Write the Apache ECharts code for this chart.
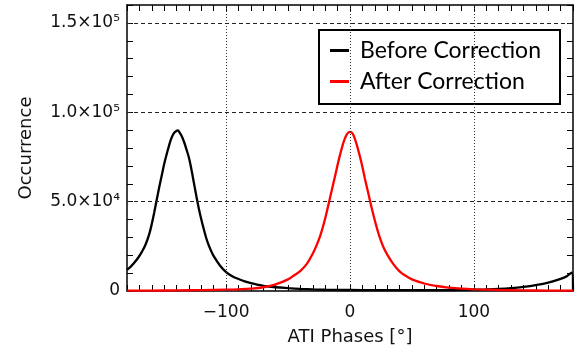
<!DOCTYPE html>
<html>
<head>
<meta charset="utf-8">
<script src="https://cdn.jsdelivr.net/npm/echarts@6/dist/echarts.min.js"></script>
<style>
  html, body { margin: 0; padding: 0; background: #fff; }
  #chart { width: 583px; height: 356px; }
</style>
</head>
<body>
<div id="chart"></div>
<script>
// Before Correction (black)
const beforeX = [-180, -177, -174, -171, -168, -165, -162, -160, -158, -156, -154, -152, -150, -148, -146, -144, -142, -140, -139,
  -138, -136, -134, -132, -130, -128, -126, -124, -122, -120, -118, -116, -114, -112, -110, -105, -100, -95, -90, -85, -80, -75, -70,
  -60, -50, -40, -30, -20, -10, 0, 20, 40, 60, 80, 100, 110, 120, 130, 140, 150, 160, 170, 175, 179, 180];
const beforeY = [11800, 13600, 15900, 18600, 21900, 26000, 32000, 37500, 44000, 51000, 58000, 64500, 71000, 76500, 81500, 85800, 88500, 89600, 89800,
  89200, 86800, 83500, 79200, 74500, 68000, 60500, 53000, 46000, 40000, 34500, 29500, 25500, 22300, 19500, 14300, 10600, 8300, 6700, 5400, 4400, 3600, 2900,
  2100, 1600, 1200, 900, 700, 600, 550, 480, 450, 450, 550, 750, 900, 1150, 1600, 2300, 3300, 4700, 6800, 8300, 10300, 0];

// After Correction (red)
const afterX = [-180, -160, -140, -120, -100, -90, -80, -70, -60, -50, -45, -40, -35, -30, -27, -24, -21, -18, -15, -12, -9, -6, -4, -2,
  0, 2, 4, 6, 9, 12, 15, 18, 21, 24, 27, 30, 35, 40, 45, 50, 60, 70, 80, 90, 100, 120, 140, 160, 180];
const afterY = [200, 250, 350, 500, 750, 950, 1300, 2100, 3700, 6500, 8800, 11300, 15000, 21000, 25500, 31000, 38000, 46500, 55500, 64500, 73500, 81500, 85500, 88200,
  89000, 88200, 85000, 80500, 72500, 63000, 54000, 45000, 37000, 30000, 24500, 20500, 15000, 11000, 8500, 6500, 4200, 2800, 1900, 1300, 950, 550, 350, 250, 200];

const xLabels = [-100, 0, 100];
const yLabels = { 0: '0', 50000: '5.0×10⁴', 100000: '1.0×10⁵', 150000: '1.5×10⁵' };
const xGrid = [-100, 0, 100];
const yGrid = [50000, 100000, 150000];

const pairs = (xs, ys) => xs.map((x, i) => [x, ys[i]]);

const labelFont = { fontFamily: 'DejaVu Sans', fontSize: 17, color: '#111' };
const tick = { show: true, inside: true, length: 6, lineStyle: { color: '#000', width: 1 } };
const frame = { show: true, onZero: false, lineStyle: { color: '#000', width: 1.5 } };

let myChart = echarts.init(document.getElementById('chart'));
let option = {
  animation: false,
  grid: { left: 127, right: 10, top: 5, bottom: 65, outerBoundsMode: 'none' },
  legend: {
    orient: 'vertical',
    left: 319,
    top: 30,
    icon: 'rect',
    itemWidth: 19,
    itemHeight: 3,
    itemGap: 8,
    padding: [9, 19, 11, 11],
    borderColor: '#000',
    borderWidth: 2,
    backgroundColor: '#fff',
    textStyle: { fontFamily: 'Lato', fontSize: 23, color: '#000', padding: [0, 0, 0, 6] },
    data: ['Before Correction', 'After Correction']
  },
  xAxis: [
    {
      type: 'value', min: -180, max: 180, interval: 10,
      name: 'ATI Phases [°]', nameLocation: 'middle', nameGap: 37,
      nameTextStyle: { fontFamily: 'DejaVu Sans', fontSize: 18, color: '#111' },
      axisLine: frame, axisTick: tick, splitLine: { show: false },
      axisLabel: Object.assign({
        margin: 13,
        formatter: v => xLabels.includes(v) ? String(v).replace('-', '\u2212') : ''
      }, labelFont)
    },
    {
      type: 'value', min: -180, max: 180, interval: 10, position: 'top',
      axisLine: frame, axisTick: tick, splitLine: { show: false }, axisLabel: { show: false }
    }
  ],
  yAxis: [
    {
      type: 'value', min: 0, max: 160000, interval: 10000,
      name: 'Occurrence', nameLocation: 'middle', nameGap: 92,
      nameTextStyle: { fontFamily: 'DejaVu Sans', fontSize: 18, color: '#111' },
      axisLine: frame, axisTick: tick, splitLine: { show: false },
      axisLabel: Object.assign({
        margin: 7,
        formatter: v => yLabels[v] !== undefined ? yLabels[v] : ''
      }, labelFont)
    },
    {
      type: 'value', min: 0, max: 160000, interval: 10000, position: 'right',
      axisLine: frame, axisTick: tick, splitLine: { show: false }, axisLabel: { show: false }
    }
  ],
  series: [
    {
      name: 'grid',
      type: 'line',
      data: [],
      silent: true,
      z: 1,
      markLine: {
        silent: true,
        symbol: 'none',
        label: { show: false },
        data: xGrid.map(v => ({ xAxis: v, lineStyle: { type: [1, 2], color: '#333', width: 1 } }))
          .concat(yGrid.map(v => ({ yAxis: v, lineStyle: { type: [4, 3], color: '#222', width: 1 } })))
      }
    },
    {
      name: 'Before Correction',
      type: 'line',
      data: pairs(beforeX, beforeY),
      showSymbol: false,
      smooth: 0.4,
      clip: false,
      color: '#000',
      lineStyle: { width: 2.3, color: '#000' },
      z: 3
    },
    {
      name: 'After Correction',
      type: 'line',
      data: pairs(afterX, afterY),
      showSymbol: false,
      smooth: 0.4,
      clip: false,
      color: '#ff0000',
      lineStyle: { width: 2.3, color: '#ff0000' },
      z: 4
    }
  ]
};

option && myChart.setOption(option);
</script>
</body>
</html>
